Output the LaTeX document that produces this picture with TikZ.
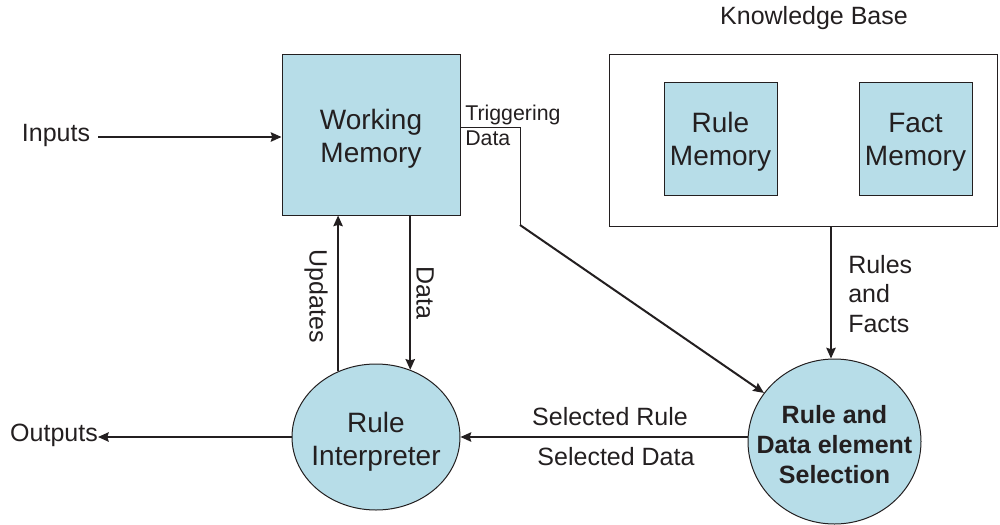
\documentclass[tikz,border=0pt]{standalone}
\usepackage{fontspec}
\setmainfont{Liberation Sans}
\usetikzlibrary{shapes.geometric,arrows.meta}
\definecolor{boxfill}{HTML}{B7DDE8}
\definecolor{ink}{HTML}{231F20}
\begin{document}
\begin{tikzpicture}[x=0.75pt,y=-0.75pt,
  every node/.style={text=ink},
  bigtext/.style={font=\fontsize{21pt}{24.75pt}\selectfont,align=center},
  midtext/.style={font=\fontsize{18.75pt}{22pt}\selectfont},
  smalltext/.style={font=\fontsize{16pt}{18.75pt}\selectfont},
  memblock/.style={draw=ink,line width=0.75pt,fill=boxfill,inner sep=0pt},
  procell/.style={ellipse,draw=ink,line width=0.75pt,fill=boxfill,inner sep=0pt},
  conn/.style={draw=ink,line width=1.5pt,-{Stealth[length=8pt,width=7pt,inset=1pt]}},
  thinconn/.style={draw=ink,line width=0.75pt}]
\useasboundingbox (0,0) rectangle (1000,525);

% Knowledge base
\node[draw=ink,line width=0.75pt,minimum width=291pt,minimum height=129pt,inner sep=0pt] (kb) at (803.5,140) {};
\node[midtext] (kbl) at (814,18) {Knowledge Base};
\node[memblock,minimum width=84.75pt,minimum height=84.75pt] (rm) at (720.5,138.5) {};
\node[memblock,minimum width=84.75pt,minimum height=84.75pt] (fm) at (915.5,138.5) {};
\node[bigtext] (rmt) at ([yshift=-2.5pt]rm.center) {Rule\\Memory};
\node[bigtext] (fmt) at ([yshift=-2.5pt]fm.center) {Fact\\Memory};

% Working memory
\node[memblock,minimum width=133.5pt,minimum height=120.75pt] (wm) at (371,134.5) {};
\node[bigtext] (wmt) at ([yshift=-3.5pt]wm.center) {Working\\Memory};

% Ellipses
\node[procell,minimum width=126pt,minimum height=109.5pt] (ri) at (376,437) {};
\node[bigtext] (rit) at ([yshift=-3.5pt]ri.center) {Rule\\Interpreter};
\node[procell,minimum width=129.75pt,minimum height=123.75pt] (rs) at (834.5,441.5) {};
\node[font=\fontsize{18.75pt}{22.5pt}\selectfont\bfseries,align=center] (rst) at ([yshift=-2.5pt]rs.center) {Rule and\\Data element\\Selection};

% Inputs / Outputs
\node[midtext,inner sep=0pt] (in) at (56,135) {Inputs};
\node[midtext,inner sep=0pt] (out) at (54,435) {Outputs};
\coordinate (inS) at (98,137);
\draw[conn] (inS) -- (wm.west |- inS);
\draw[conn] (ri.west) -- (98,437) coordinate (outE);

% Triggering data
\coordinate (t0) at (460,127);
\coordinate (t1) at (520,127);
\coordinate (t2) at (520,225);
\draw[thinconn] (t0) -- (t1) -- (t2);
\draw[conn] (t2) -- (rs);
\node[smalltext,align=left,anchor=west,inner sep=0pt] (trig) at (465,125) {Triggering\\Data};

% Rules and facts
\coordinate (rf) at (831,226);
\draw[conn] (rf) -- (rf |- rs.north);
\node[midtext,align=left,anchor=west,inner sep=0pt] (rfl) at (848,294) {Rules\\and\\Facts};

% Updates / Data
\draw[conn] (ri.120) -- (wm.south -| ri.120);
\draw[conn] (wm.south -| ri.63) -- (ri.63);
\node[midtext,rotate=-90] (upd) at (316,296) {Updates};
\node[midtext,rotate=-90] (dat) at (425,293) {Data};

% Selected rule / data
\draw[conn] (rs.west |- ri.east) -- (ri.east);
\node[midtext] (srl) at (610,417) {Selected Rule};
\node[midtext] (sdl) at (616,457) {Selected Data};
\end{tikzpicture}
\end{document}
